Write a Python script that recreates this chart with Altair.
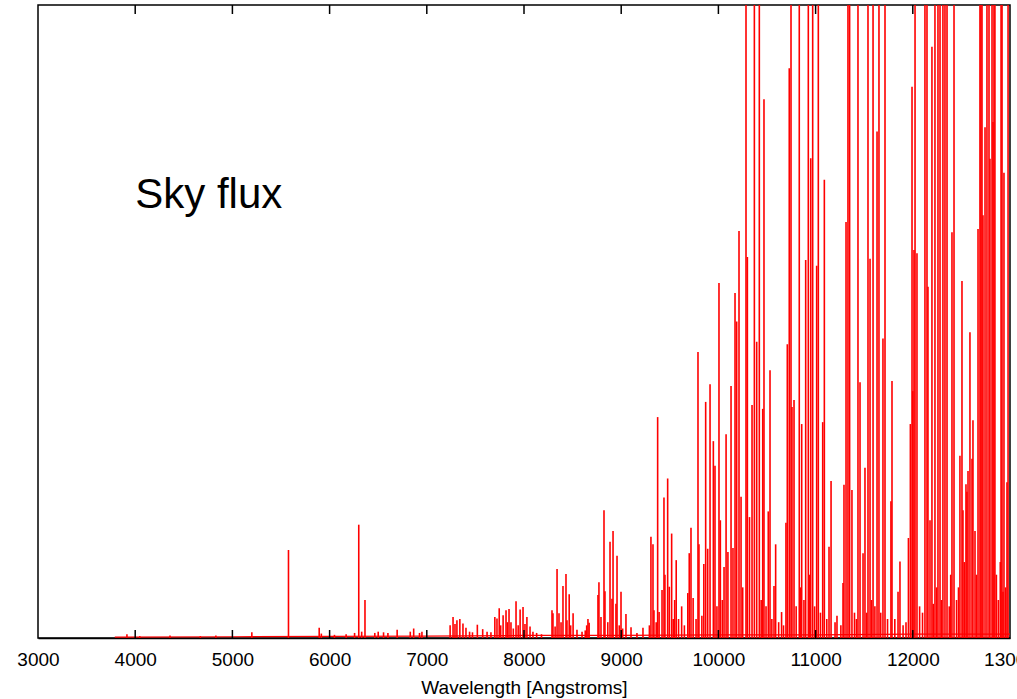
import altair as alt
import pandas as pd

# Emission line positions (Angstrom) and peak flux (percent of plotted range; >100 is off the top)
line_wavelength = [
    3915, 4047, 4358, 4670, 4830, 5200, 5577, 5893, 5915, 6050, 6170, 6257, 6300, 6330, 6364,
    6465, 6500, 6555, 6600, 6695, 6830, 6865, 6925, 6950,
    7240, 7270, 7290, 7310, 7340, 7372, 7403, 7440, 7470, 7520, 7575, 7620, 7660,
    7700, 7722, 7745, 7760, 7785, 7815, 7830, 7846, 7866, 7890, 7918, 7940, 7960, 7990,
    8010, 8030, 8062, 8092, 8130, 8180, 8288, 8298, 8320, 8340, 8360, 8381, 8401, 8432,
    8442, 8465, 8480, 8505, 8545, 8597, 8630, 8645, 8658, 8670, 8761, 8771, 8792, 8823,
    8833, 8862, 8885, 8905, 8916, 8946, 8957, 8980, 8998, 9015, 9049, 9101, 9162, 9224,
    9290, 9306, 9327, 9337, 9360, 9375, 9390, 9420, 9440, 9450, 9478, 9495, 9519, 9535,
    9550, 9566, 9590, 9622, 9650, 9685, 9700, 9718, 9740, 9770, 9790, 9800, 9830, 9850,
    9869, 9890, 9914, 9948, 9965, 9985, 10006, 10020, 10040, 10058, 10079, 10098, 10130,
    10150, 10171, 10188, 10212, 10233, 10250, 10284, 10298, 10320, 10346, 10370, 10394,
    10421, 10440, 10456, 10469, 10490, 10513, 10531, 10550, 10572, 10589, 10620, 10650,
    10670, 10695, 10709, 10729, 10747, 10757, 10778, 10800, 10832, 10845, 10857, 10880,
    10898, 10925, 10940, 10950, 10970, 10990, 11011, 11028, 11050, 11073, 11090, 11115,
    11138, 11159, 11200, 11220, 11260, 11282, 11292, 11313, 11333, 11350, 11374, 11400,
    11420, 11436, 11457, 11488, 11508, 11525, 11539, 11560, 11575, 11591, 11610, 11632,
    11652, 11670, 11693, 11714, 11740, 11775, 11786, 11815, 11848, 11868, 11900, 11930,
    11955, 11975, 11992, 12000, 12012, 12023, 12043, 12070, 12100, 12125, 12146, 12156,
    12177, 12197, 12210, 12228, 12245, 12259, 12280, 12295, 12310, 12331, 12352, 12375,
    12390, 12403, 12424, 12450, 12470, 12485, 12506, 12516, 12530, 12547, 12557, 12568,
    12588, 12609, 12619, 12640, 12655, 12671, 12691, 12701, 12712, 12722, 12743, 12763,
    12784, 12794, 12815, 12825, 12835, 12845, 12860, 12880, 12900, 12908, 12918, 12928,
    12938, 12955, 12969, 12980,
]
line_flux = [
    0.6, 0.3, 0.4, 0.3, 0.4, 0.9, 13.9, 1.6, 0.7, 0.5, 0.6, 0.8, 17.9, 1.0, 6.0,
    0.8, 1.0, 0.9, 0.8, 1.3, 1.0, 1.5, 0.8, 1.0,
    2.0, 3.3, 2.2, 2.8, 3.0, 2.3, 1.6, 1.0, 0.9, 2.1, 1.4, 1.0, 0.9,
    3.3, 3.1, 4.7, 2.0, 3.6, 4.4, 2.5, 4.6, 2.5, 1.5, 5.8, 2.0, 4.5, 4.9,
    2.2, 3.3, 1.8, 1.0, 0.8, 0.6, 4.4, 3.9, 1.8, 10.9, 3.9, 2.5, 8.2, 10.1,
    2.8, 6.9, 2.0, 3.9, 1.3, 1.0, 1.2, 2.0, 3.0, 2.4, 6.8, 8.8, 3.3, 20.2,
    7.4, 2.5, 15.2, 6.2, 16.9, 5.4, 13.0, 2.0, 7.3, 1.5, 3.8, 1.7, 0.8, 1.6,
    2.0, 16.0, 14.8, 4.4, 2.5, 34.9, 4.1, 7.6, 22.2, 10.0, 25.2, 8.1, 16.5, 3.0,
    6.0, 12.3, 3.0, 5.0, 2.0, 7.1, 13.4, 17.4, 6.3, 3.0, 45.2, 14.8, 3.5, 11.7,
    37.3, 14.1, 40.1, 31.1, 27.2, 5.0, 56.1, 18.6, 6.0, 11.2, 32.2, 13.6, 39.8,
    14.2, 54.5, 50.0, 64.3, 22.3, 8.0, 130, 60.2, 19.1, 36.8, 150, 46.8,
    140, 6.0, 36.2, 85.1, 5.0, 20.0, 42.3, 3.0, 8.2, 14.8, 2.5, 4.1,
    2.0, 18.2, 46.4, 90.0, 150, 36.5, 37.6, 5.0, 160, 8.0, 33.8, 6.0,
    59.7, 130, 10.0, 75.8, 140, 5.0, 58.8, 130, 4.0, 34.1, 72.4, 3.0,
    14.4, 24.8, 2.5, 3.5, 2.0, 8.7, 24.2, 65.7, 150, 140, 23.4, 4.0,
    3.0, 130, 40.4, 13.4, 26.9, 4.0, 150, 59.9, 6.0, 140, 5.0, 80.0,
    130, 4.0, 47.3, 150, 3.0, 21.6, 40.6, 3.0, 7.3, 12.1, 2.0, 2.5,
    15.8, 33.8, 87.1, 39.0, 61.3, 140, 60.8, 5.0, 4.0, 130, 150, 55.5,
    18.6, 93.4, 5.4, 130, 8.0, 150, 140, 6.0, 130, 160, 140, 5.0,
    10.0, 64.1, 130, 6.0, 8.0, 28.8, 56.4, 20.2, 12.0, 24.3, 23.1, 26.4,
    48.3, 28.3, 34.4, 16.9, 10.0, 64.6, 150, 130, 140, 66.8, 80.7, 140,
    150, 75.7, 130, 81.5, 140, 130, 10.0, 6.0, 12.0, 130, 140, 7.3,
    73.5, 8.0, 24.6, 120,
]

# Faint continuum under the lines
cont_wavelength = [3790, 5000, 6000, 7000, 8000, 9000, 10000, 11000, 12000, 13000]
cont_flux = [0.15, 0.2, 0.25, 0.3, 0.4, 0.4, 0.5, 0.5, 0.6, 0.6]

tick_values = [3000, 4000, 5000, 6000, 7000, 8000, 9000, 10000, 11000, 12000, 13000]
inner_ticks = [4000, 5000, 6000, 7000, 8000, 9000, 10000, 11000, 12000]

label_text = ["Sky flux"]
label_x = [4000]
label_y = [68]

FONT = "Liberation Sans"
x_scale = alt.Scale(domain=[3000, 13000], nice=False, zero=False)
y_scale = alt.Scale(domain=[0, 100], nice=False, zero=False)
x_axis = alt.Axis(values=tick_values, title="Wavelength [Angstroms]", format="d",
                  ticks=False, tickSize=0, labelPadding=12, titlePadding=9,
                  labelFlush=False, labelOverlap=False, grid=False)

spec_df = pd.DataFrame({"wavelength": line_wavelength, "flux": line_flux})
cont_df = pd.DataFrame({"wavelength": cont_wavelength, "flux": cont_flux})
tick_df = pd.DataFrame({"wavelength": inner_ticks})
label_df = pd.DataFrame({"wavelength": label_x, "flux": label_y, "label": label_text})

lines = alt.Chart(spec_df).mark_rule(color="#ff0000", strokeWidth=1.6, clip=True).encode(
    x=alt.X("wavelength:Q", scale=x_scale, axis=x_axis),
    y=alt.Y("flux:Q", scale=y_scale, axis=None),
    y2=alt.datum(0),
)

continuum = alt.Chart(cont_df).mark_line(color="#ff0000", strokeWidth=1.2, clip=True).encode(
    x=alt.X("wavelength:Q", scale=x_scale, axis=x_axis),
    y=alt.Y("flux:Q", scale=y_scale, axis=None),
)

ticks_bottom = alt.Chart(tick_df).mark_rule(color="black", strokeWidth=1.5).encode(
    x=alt.X("wavelength:Q", scale=x_scale, axis=x_axis),
    y=alt.value(633), y2=alt.value(625),
)
ticks_top = alt.Chart(tick_df).mark_rule(color="black", strokeWidth=1.5).encode(
    x=alt.X("wavelength:Q", scale=x_scale, axis=x_axis),
    y=alt.value(0), y2=alt.value(9),
)

label = alt.Chart(label_df).mark_text(align="left", baseline="alphabetic", fontSize=42,
                                      font=FONT, color="black").encode(
    x=alt.X("wavelength:Q", scale=x_scale, axis=x_axis),
    y=alt.Y("flux:Q", scale=y_scale, axis=None),
    text="label:N",
)

chart = alt.layer(lines, continuum, ticks_bottom, ticks_top, label).properties(
    width=972, height=633,
    autosize=alt.AutoSizeParams(type="none"),
    padding={"left": 38, "top": 5, "right": 7, "bottom": 61},
).configure(
    background="white"
).configure_view(
    stroke="black", strokeWidth=1.5
).configure_axis(
    labelFont=FONT, labelFontSize=19, labelColor="black",
    titleFont=FONT, titleFontSize=19, titleFontWeight="normal", titleColor="black",
    domainColor="black", domainWidth=1.5,
)

chart.save("out.html", embed_options={"renderer": "svg", "actions": False})
